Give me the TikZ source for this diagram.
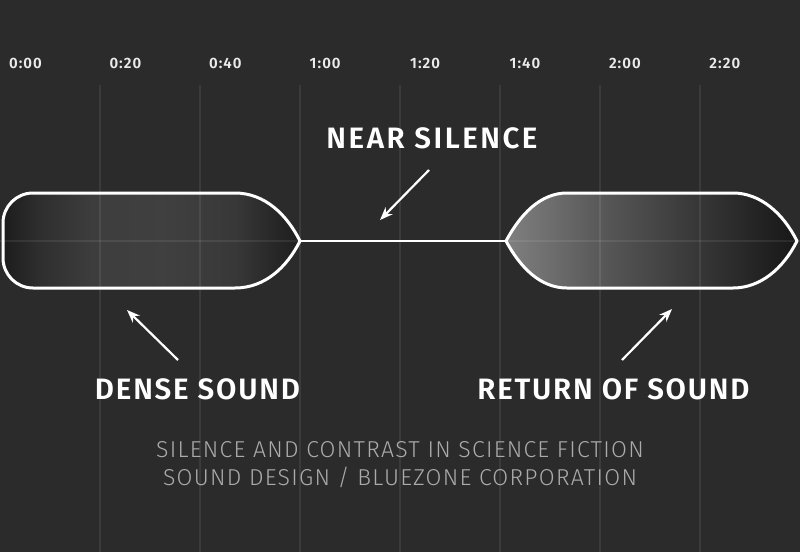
\documentclass[tikz,border=0pt]{standalone}
\usepackage{fontspec}
\setmainfont{Fira Sans}
\newfontfamily\semib{Fira Sans SemiBold}
\newfontfamily\lightf{Fira Sans Light}
\usetikzlibrary{arrows.meta}
\definecolor{bg}{HTML}{2B2B2B}
\definecolor{subc}{HTML}{ABABAB}
\pgfdeclarehorizontalshading{denseshade}{100bp}{
  color(0bp)=(black!89); color(25bp)=(black!89); color(31bp)=(black!82); color(40bp)=(black!76);
  color(52bp)=(black!75); color(64bp)=(black!78); color(71bp)=(black!85); color(75bp)=(black!88); color(100bp)=(black!88)}
\pgfdeclarehorizontalshading{returnshade}{100bp}{
  color(0bp)=(black!50); color(25bp)=(black!50); color(42bp)=(black!66); color(60bp)=(black!80); color(75bp)=(black!91); color(100bp)=(black!91)}
\begin{document}
\begin{tikzpicture}[x=1pt,y=-1pt,
  tlabel/.style={text=white!92!black,font=\semib\fontsize{15}{16}\selectfont\addfontfeatures{LetterSpace=7},anchor=center,inner sep=0pt},
  biglabel/.style={text=white,font=\semib\fontsize{29.5}{32}\selectfont\addfontfeatures{LetterSpace=6},anchor=center,inner sep=0pt},
  sublabel/.style={text=subc,font=\lightf\fontsize{23}{28}\selectfont\addfontfeatures{LetterSpace=5.5},align=center,anchor=center,inner sep=0pt},
  gridline/.style={white,opacity=0.08,line width=1.4pt},
  outline/.style={white,line width=3pt,line join=round}, 
  pointer/.style={white,line width=2.2pt,-{Stealth[length=13pt,width=10pt]}}]
\fill[bg] (0,0) rectangle (800,552);
\useasboundingbox (0,0) rectangle (800,552);
\def\leftshape{(3,241) -- (3,223) .. controls (3,206.4) and (16.4,193) .. (33,193) -- (235,193)
  .. controls (265,193) and (287,215) .. (300,241)
  .. controls (287,267) and (265,288) .. (235,288) -- (33,288)
  .. controls (16.4,288) and (3,274.6) .. (3,258) -- cycle}
\def\rightshape{(506,241) .. controls (520,215) and (540,193) .. (567,193) -- (733,193)
  .. controls (760,193) and (783,213) .. (797,241)
  .. controls (783,269) and (760,288) .. (733,288) -- (567,288)
  .. controls (540,288) and (520,267) .. (506,241) -- cycle}
% fills
\shade[shading=denseshade] \leftshape;
\shade[shading=returnshade] \rightshape;
% grid
\foreach \i in {1,...,7} {\draw[gridline] (\i*100,85) -- (\i*100,552);}
\draw[gridline] (0,241) -- (800,241);
% outlines
\coordinate (lp) at (300,241);
\coordinate (rp) at (506,241);
\draw[outline] \leftshape;
\draw[outline] \rightshape;
\draw[white,line width=2.6pt] (lp) -- (rp);
% time labels
\foreach \t [count=\k from 0] in {0:00,0:20,0:40,1:00,1:20,1:40,2:00,2:20}
  {\node[tlabel] (t\k) at (25.5+\k*99.9,63) {\t};}
% labels
\node[biglabel,font=\semib\fontsize{29.5}{32}\selectfont\addfontfeatures{LetterSpace=8.5}] (near) at (432,138.5) {NEAR SILENCE};
\node[biglabel] (dense) at (197.5,389.5) {DENSE SOUND};
\node[biglabel] (ret) at (613.5,389.5) {RETURN OF SOUND};
\node[sublabel] (sub) at (400,465) {SILENCE AND CONTRAST IN SCIENCE FICTION\\SOUND DESIGN / BLUEZONE CORPORATION};
% arrows
\coordinate (na) at (429,170);
\coordinate (nb) at (380,220);
\coordinate (da) at (178,360);
\coordinate (db) at (127,310);
\coordinate (ra) at (622,360);
\coordinate (rb) at (672,309);
\draw[pointer] (na) -- (nb);
\draw[pointer] (da) -- (db);
\draw[pointer] (ra) -- (rb);
\end{tikzpicture}
\end{document}
